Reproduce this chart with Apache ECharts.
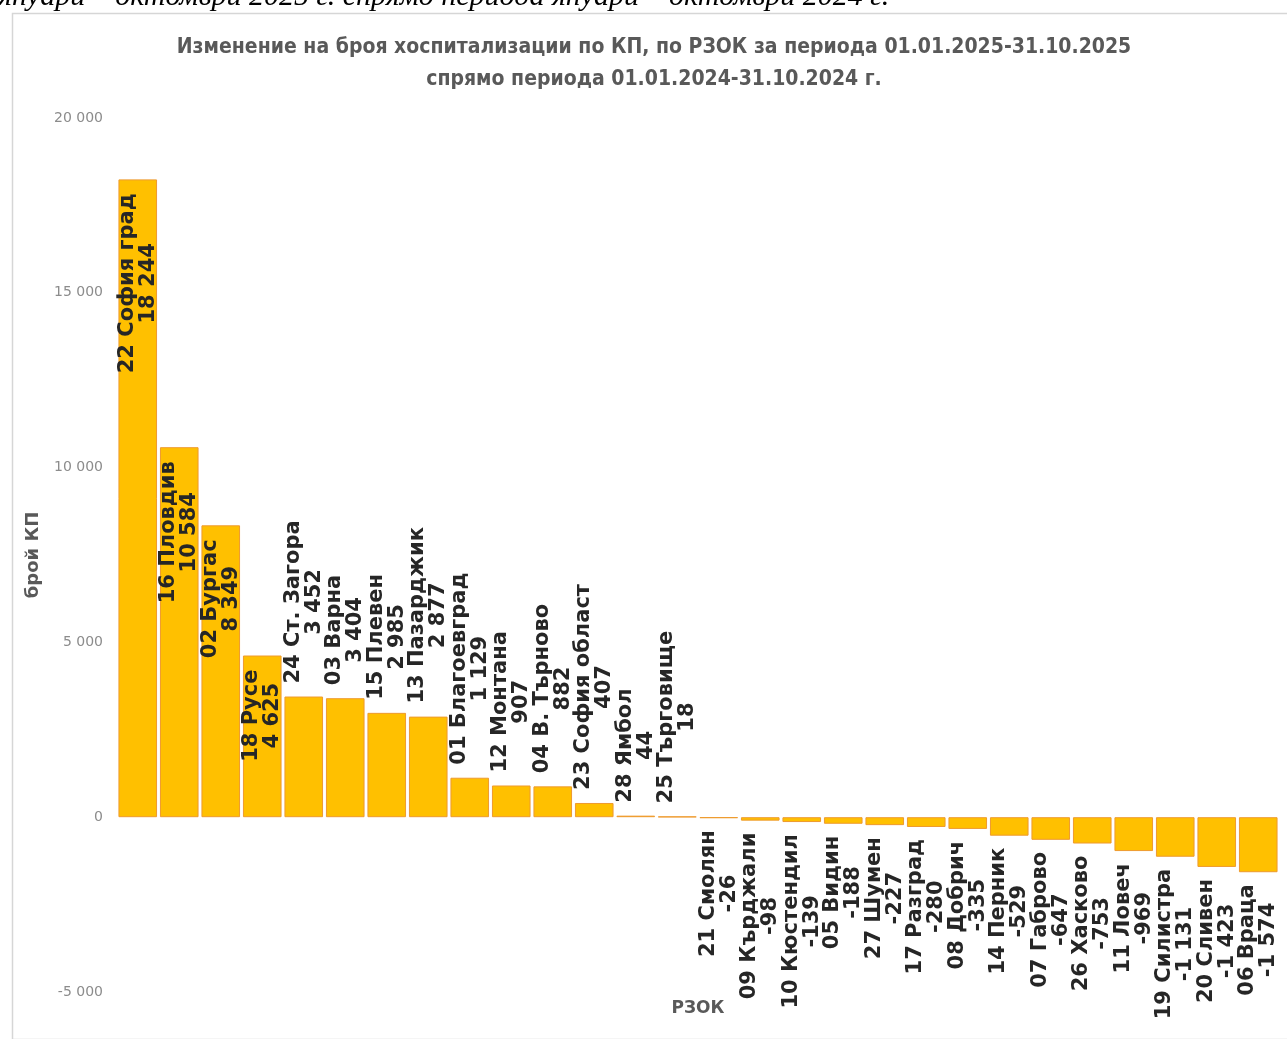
<!DOCTYPE html>
<html><head><meta charset="utf-8">
<script src="https://cdn.jsdelivr.net/npm/echarts@6/dist/echarts.min.js"></script>
<style>html,body{margin:0;padding:0;background:#fff;overflow:hidden}#c{width:1287px;height:1039px;}</style>
</head><body><div id="c"></div>
<script>
const titleLines = ['Изменение на броя хоспитализации по КП, по РЗОК за периода 01.01.2025-31.10.2025', 'спрямо периода 01.01.2024-31.10.2024 г.'];
const headerText = 'януари – октомври 2025 г. спрямо периода януари – октомври 2024 г.';
const yAxisName = 'брой КП';
const xAxisName = 'РЗОК';
const categories = ['22 София град','16 Пловдив','02 Бургас','18 Русе','24 Ст. Загора','03 Варна','15 Плевен','13 Пазарджик','01 Благоевград','12 Монтана','04 В. Търново','23 София област','28 Ямбол','25 Търговище','21 Смолян','09 Кърджали','10 Кюстендил','05 Видин','27 Шумен','17 Разград','08 Добрич','14 Перник','07 Габрово','26 Хасково','11 Ловеч','19 Силистра','20 Сливен','06 Враца'];
const values = [18244,10584,8349,4625,3452,3404,2985,2877,1129,907,882,407,44,18,-26,-98,-139,-188,-227,-280,-335,-529,-647,-753,-969,-1131,-1423,-1574];
const yMin = -5000, yMax = 20000, yInterval = 5000;

function fmt(v){ return String(v).replace(/\B(?=(\d{3})+(?!\d))/g, ' '); }
const labelFont = {fontFamily:'DejaVu Sans', fontWeight:'bold', fontSize:21, lineHeight:21, color:'#262626'};
function labelFor(v){
  if (v >= 4000) return {position:'insideTop', align:'right', distance:14};
  if (v >= 0) return {position:'top', align:'left', distance:13};
  return {position:'bottom', align:'right', distance:12};
}
const data = values.map((v,i)=>({value:v, label:labelFor(v)}));

const chart = echarts.init(document.getElementById('c'), null, {renderer:'canvas'});
chart.setOption({
  backgroundColor:'#fff',
  animation:false,
  title:{
    text: titleLines.join('\n'),
    left: 649, top: 27, textAlign:'center',
    textStyle:{fontFamily:'DejaVu Sans Condensed, DejaVu Sans', fontWeight:'bold', fontSize:21, lineHeight:32, color:'#595959'}
  },
  graphic:[
    {type:'rect', left:10, top:11, shape:{x:0,y:0,width:1290,height:1026}, style:{fill:'none', stroke:'#d6d6d6', lineWidth:1.5}, silent:true, z:-1},
    {type:'text', x:-2, y:12, style:{text:headerText, font:'italic 30px "Liberation Serif"', fill:'#000', textVerticalAlign:'bottom'}, silent:true}
  ],
  grid:{left:117, right:8, top:118, bottom:47, containLabel:false, outerBoundsMode:'none'},
  xAxis:{
    type:'category', data:categories,
    name:xAxisName, nameLocation:'middle', nameGap:8,
    nameTextStyle:{fontFamily:'DejaVu Sans', fontWeight:'bold', fontSize:17, color:'#595959'},
    axisLine:{show:false, onZero:false},
    axisTick:{show:false}, axisLabel:{show:false}, splitLine:{show:false}
  },
  yAxis:{
    type:'value', min:yMin, max:yMax, interval:yInterval,
    name:yAxisName, nameLocation:'middle', nameGap:75, nameRotate:90,
    nameTextStyle:{fontFamily:'DejaVu Sans', fontWeight:'bold', fontSize:18, color:'#595959'},
    axisLine:{show:false}, axisTick:{show:false}, splitLine:{show:false},
    axisLabel:{formatter:fmt, margin:14, fontFamily:'DejaVu Sans', fontSize:14, color:'#8c8c8c'}
  },
  series:[{
    type:'bar', data:data, barCategoryGap:'7%',
    itemStyle:{color:'#FFC000', borderColor:'#EE9A2E', borderWidth:1},
    label:{
      show:true, rotate:90, verticalAlign:'middle',
      formatter:(p)=>'{n|'+p.name+'}\n{n|'+fmt(p.value)+'}',
      ...labelFont,
      rich:{n:{align:'center', ...labelFont}}
    }
  }]
});
</script>
</body></html>
